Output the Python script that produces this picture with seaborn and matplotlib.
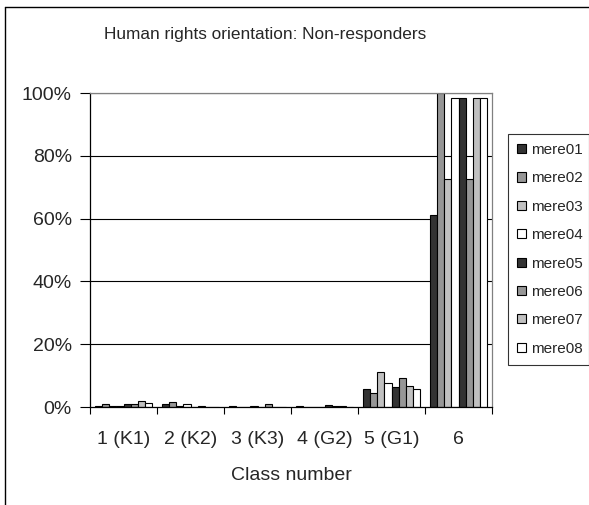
import matplotlib
matplotlib.use("Agg")
import matplotlib.pyplot as plt
import matplotlib.lines as mlines
from matplotlib.ticker import FixedLocator, FuncFormatter
import seaborn as sns
import pandas as pd

# Data (percent of non-responders)
classes = ["1 (K1)", "2 (K2)", "3 (K3)", "4 (G2)", "5 (G1)", "6"]
series = ["mere01", "mere02", "mere03", "mere04", "mere05", "mere06", "mere07", "mere08"]
mere01 = [0.3, 0.8, 0.3, 0.3, 5.7, 61.0]
mere02 = [0.8, 1.5, 0.0, 0.0, 4.4, 100.0]
mere03 = [0.3, 0.3, 0.0, 0.0, 11.0, 72.5]
mere04 = [0.3, 0.9, 0.3, 0.0, 7.7, 98.3]
mere05 = [0.8, 0.0, 0.0, 0.7, 6.3, 98.3]
mere06 = [0.8, 0.4, 0.8, 0.3, 9.1, 72.5]
mere07 = [1.8, 0.0, 0.0, 0.3, 6.8, 98.3]
mere08 = [1.4, 0.0, 0.0, 0.0, 5.7, 98.3]
yticks = [0, 20, 40, 60, 80, 100]

palette = ["#333333", "#969696", "#c0c0c0", "#ffffff",
           "#333333", "#969696", "#c0c0c0", "#ffffff"]

values = [mere01, mere02, mere03, mere04, mere05, mere06, mere07, mere08]
rows = []
for name, vals in zip(series, values):
    for cls, v in zip(classes, vals):
        rows.append({"cls": cls, "series": name, "pct": v})
df = pd.DataFrame(rows)

sns.set_style("white")
plt.rcParams["font.family"] = ["Liberation Sans", "DejaVu Sans"]

W, H = 589, 505
fig = plt.figure(figsize=(W / 100, H / 100), dpi=100)
ax = fig.add_axes([90 / W, 1 - 407 / H, (492 - 90) / W, (407 - 93) / H])

sns.barplot(data=df, x="cls", y="pct", hue="series", order=classes,
            hue_order=series, palette=palette, width=0.846,
            edgecolor="black", linewidth=0.8, saturation=1,
            errorbar=None, ax=ax, legend=True)

ax.set_ylim(0, 100)
ax.set_xlim(-0.5, len(classes) - 0.5)
ax.yaxis.set_major_locator(FixedLocator(yticks))
ax.yaxis.set_major_formatter(FuncFormatter(lambda v, p: f"{v:.0f}%"))
for y in yticks[1:]:
    ax.axhline(y, color="black", linewidth=0.8, zorder=0)

# tick marks between groups, labels at the centres
ax.set_xticks(range(len(classes)))
ax.set_xticklabels(classes)
ax.set_xticks([i - 0.5 for i in range(len(classes) + 1)], minor=True)
ax.tick_params(axis="x", which="major", length=0, pad=17, labelsize=14)
ax.tick_params(axis="x", which="minor", length=5, width=0.8, direction="out",
               color="black", bottom=True)
ax.tick_params(axis="y", length=7, width=0.8, direction="out", color="black",
               left=True, labelsize=14, pad=6)

ax.set_xlabel("Class number", fontsize=14, labelpad=14)
ax.set_ylabel("")

for side in ["left", "bottom"]:
    ax.spines[side].set_color("black")
    ax.spines[side].set_linewidth(0.9)
for side in ["top", "right"]:
    ax.spines[side].set_visible(True)
    ax.spines[side].set_color("#808080")
    ax.spines[side].set_linewidth(0.9)

fig.text(265.5 / W, 1 - 34 / H, "Human rights orientation: Non-responders",
         ha="center", va="center", fontsize=12.4)

handles, labels = ax.get_legend_handles_labels()
ax.get_legend().remove()
leg = fig.legend(handles, labels, loc="upper left",
                 bbox_to_anchor=(508 / W, 1 - 139 / H, 81 / W, 0.01),
                 mode="expand", fontsize=11, frameon=True, fancybox=False,
                 handlelength=0.55, handleheight=0.55, handletextpad=0.35,
                 labelspacing=0.94, borderpad=0.6, borderaxespad=0)
leg.get_frame().set_edgecolor("black")
leg.get_frame().set_linewidth(0.8)

# outer chart border (cut off at right and bottom)
fig.add_artist(mlines.Line2D([5 / W, 5 / W], [0, 1 - 7 / H],
                             transform=fig.transFigure, color="black", lw=1))
fig.add_artist(mlines.Line2D([5 / W, 1], [1 - 7 / H, 1 - 7 / H],
                             transform=fig.transFigure, color="black", lw=1))

fig.savefig("out.png", dpi=100)
